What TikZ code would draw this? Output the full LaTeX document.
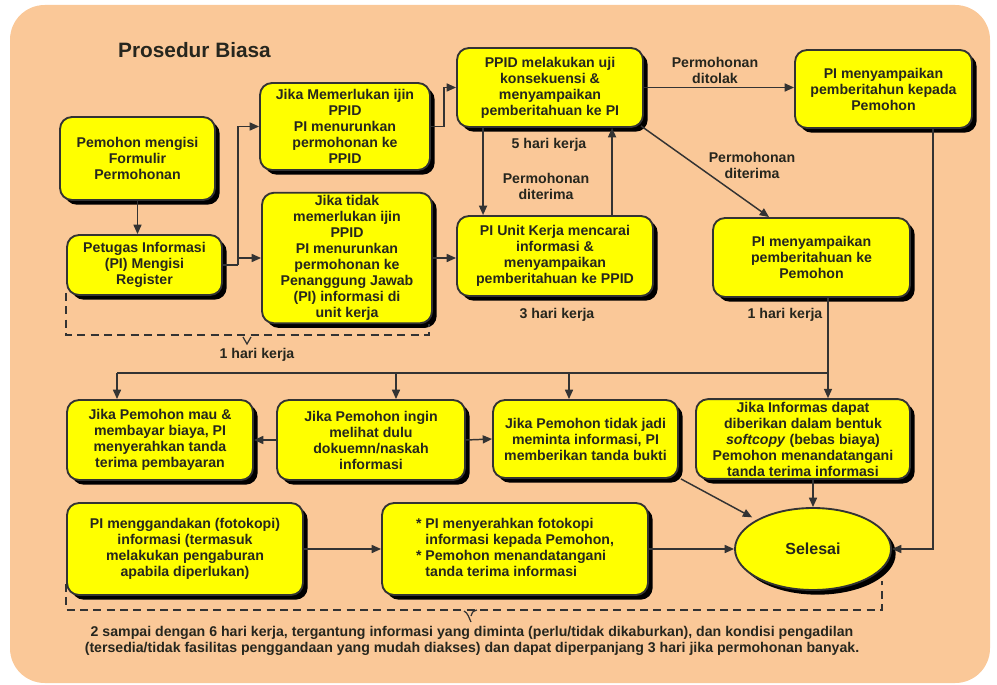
\documentclass[tikz,border=0pt]{standalone}
\usepackage{fontspec}
\setmainfont{Liberation Sans}
\usetikzlibrary{arrows.meta,shapes.geometric,shadows,calc}

\definecolor{latar}{RGB}{250,200,152}
\definecolor{kuning}{RGB}{255,255,0}
\definecolor{garis}{RGB}{51,51,51}
\definecolor{tulisan}{RGB}{38,38,30}

\tikzset{every picture/.style={line width=0.75pt}}
\tikzset{
  kotak/.style={draw=garis, line width=1.4pt, fill=kuning, rounded corners=9pt, align=center, inner sep=2pt, text=tulisan, font=\fontsize{10.6}{12}\selectfont\bfseries, drop shadow={shadow xshift=3.5pt, shadow yshift=-3.5pt, opacity=1, fill=black}},
  ukuran/.style 2 args={minimum width=#1*0.75pt, minimum height=#2*0.75pt},
  panah/.style={draw=garis, line width=1.1pt, -{Triangle[length=7pt,width=6pt]}},
  garisbiasa/.style={draw=garis, line width=1.1pt},
  putus/.style={draw=garis, line width=1.1pt, dash pattern={on 6pt off 4pt}},
  keterangan/.style={font=\fontsize{10.6}{12}\selectfont\bfseries, text=tulisan, align=center, inner sep=0.75pt},
}

\begin{document}
\begin{tikzpicture}[x=0.75pt,y=0.75pt,yscale=-1,xscale=1]
\useasboundingbox (0,0) rectangle (997,685);

%Rounded Rect latar
\fill[latar, rounded corners=26pt] (10,5) rectangle (990,683);

% Text Node judul
\node[keterangan, font=\fontsize{15.6}{18}\selectfont\bfseries] (judul) at (194.5,50) {Prosedur Biasa};

%Rounded Rect baris atas
\node[kotak, ukuran={155}{83}] (pemohon) at (137.5,158.5) {Pemohon mengisi\\Formulir\\Permohonan};
\node[kotak, ukuran={155}{60}] (register) at (144.5,265) {Petugas Informasi\\(PI) Mengisi\\Register};
\node[kotak, ukuran={170}{87}] (ijin) at (345,126.5) {Jika Memerlukan ijin\\PPID\\PI menurunkan\\permohonan ke\\PPID};
\node[kotak, ukuran={170}{130}] (tanpaijin) at (347,258) {Jika tidak\\memerlukan ijin\\PPID\\PI menurunkan\\permohonan ke\\Penanggung Jawab\\(PI) informasi di\\unit kerja};
\node[kotak, ukuran={186}{79}] (uji) at (550,87.5) {PPID melakukan uji\\konsekuensi \&\\menyampaikan\\pemberitahuan ke PI};
\node[kotak, ukuran={177}{78}] (ditolak) at (883.5,89) {PI menyampaikan\\pemberitahun kepada\\Pemohon};
\node[kotak, ukuran={196}{80}] (unitkerja) at (555,256) {PI Unit Kerja mencarai\\informasi \&\\menyampaikan\\pemberitahuan ke PPID};
\node[kotak, ukuran={197}{79}] (diterima) at (811.5,257.5) {PI menyampaikan\\pemberitahuan ke\\Pemohon};

%Rounded Rect baris tengah
\node[kotak, ukuran={186}{80}] (bayar) at (160,440) {Jika Pemohon mau \&\\membayar biaya, PI\\menyerahkan tanda\\terima pembayaran};
\node[kotak, ukuran={188}{80}] (lihat) at (371,440) {Jika Pemohon ingin\\melihat dulu\\dokuemn/naskah\\informasi};
\node[kotak, ukuran={185}{78}] (batal) at (585.5,439) {Jika Pemohon tidak jadi\\meminta informasi, PI\\memberikan tanda bukti};
\node[kotak, ukuran={214}{78}] (softcopy) at (803,439) {Jika Informas dapat\\diberikan dalam bentuk\\\textit{softcopy} (bebas biaya)\\Pemohon menandatangani\\tanda terima informasi};

%Rounded Rect baris bawah
\node[kotak, ukuran={236}{92}] (gandakan) at (185,549) {PI menggandakan (fotokopi)\\informasi (termasuk\\melakukan pengaburan\\apabila diperlukan)};
\node[kotak, ukuran={266}{92}] (serahkan) at (515,549) {\begin{tabular}{@{}l@{\ }l@{}}
{*} & PI menyerahkan fotokopi\\
    & informasi kepada Pemohon,\\
{*} & Pemohon menandatangani\\
    & tanda terima informasi
\end{tabular}};
%Ellipse selesai
\node[kotak, ellipse, ukuran={156}{82}, font=\fontsize{12}{14}\selectfont\bfseries] (selesai) at (813,549) {Selesai};

% Text Node keterangan
\node[keterangan] (lbltolak) at (715,70) {Permohonan\\ditolak};
\node[keterangan] (lbl5hari) at (549,145) {5 hari kerja};
\node[keterangan] (lblterima1) at (546,186) {Permohonan\\diterima};
\node[keterangan] (lblterima2) at (752,165) {Permohonan\\diterima};
\node[keterangan] (lbl3hari) at (557,315) {3 hari kerja};
\node[keterangan] (lbl1hari) at (785,315) {1 hari kerja};
\node[keterangan] (lbl1harib) at (257,355) {1 hari kerja};
\node[keterangan] (catatan) at (472,641) {2 sampai dengan 6 hari kerja, tergantung informasi yang diminta (perlu/tidak dikaburkan), dan kondisi pengadilan\\(tersedia/tidak fasilitas penggandaan yang mudah diakses) dan dapat diperpanjang 3 hari jika permohonan banyak.};

% Connector atas
\coordinate (cabang) at (238,265);
\draw[panah] (pemohon.south) -- (pemohon.south |- register.north);
\draw[garisbiasa] (register.east) -- (cabang);
\draw[panah] (cabang) |- (ijin.west);
\draw[panah] (cabang) |- (tanpaijin.west);
\draw[panah] (ijin.east) -- ++(13,0) |- (uji.west);
\draw[panah] (tanpaijin.east) -- (tanpaijin.east -| unitkerja.west);
\draw[panah] (uji.east) -- (uji.east -| ditolak.west);
\draw[panah] ($(uji.south west)+(27,0)$) -- ($(unitkerja.north west)+(27,0)$);
\draw[panah] ($(unitkerja.north west)+(156,0)$) -- ($(uji.south west)+(156,0)$);
\draw[panah] ($(uji.south east)+(-3,-2)$) -- ($(diterima.north west)+(57,0)$);

% Connector pembagi
\coordinate (bagi) at (828,373);
\coordinate (c1) at (117,373);
\coordinate (c2) at (396,373);
\coordinate (c3) at (569,373);
\draw[garisbiasa] (diterima.south -| bagi) -- (bagi) -- (c1);
\draw[panah] (c1) -- (c1 |- bayar.north);
\draw[panah] (c2) -- (c2 |- lihat.north);
\draw[panah] (c3) -- (c3 |- batal.north);
\draw[panah] (bagi) -- (bagi |- softcopy.north);
\draw[panah] (lihat.west) -- (bayar.east);
\draw[panah] (lihat.east) -- (batal.west);

% Connector bawah
\draw[panah] (gandakan.east) -- (serahkan.west);
\draw[panah] (serahkan.east) -- (selesai.west);
\draw[panah] ($(batal.south east)+(2,0)$) -- ($(selesai.north west)+(-5,-2)$);
\draw[panah] (selesai.north |- softcopy.south) -- (selesai.north);
\draw[panah] ($(ditolak.south east)+(-40,0)$) |- (selesai.east);

% Dashed bracket
\coordinate (kurung1) at (247,335);
\draw[putus] ($(register.south west)+(0,-3)$) |- (kurung1) -| ($(tanpaijin.south east)+(-4,0)$);
\draw[garisbiasa, line width=0.9pt] ($(kurung1)+(-4,2)$) -- ($(kurung1)+(0,9)$) -- ($(kurung1)+(4,2)$);
\coordinate (kurung2) at (470,610);
\draw[putus] ($(gandakan.south west)+(0,-12)$) |- (kurung2) -| ($(selesai.east)+(-10,32)$);
\draw[garisbiasa, line width=0.9pt] ($(kurung2)+(-6,1)$) .. controls ($(kurung2)+(-2,3)$) and ($(kurung2)+(-1,8)$) .. ($(kurung2)+(1,12)$);
\draw[garisbiasa, line width=0.9pt] ($(kurung2)+(7,0)$) .. controls ($(kurung2)+(3,1)$) and ($(kurung2)+(1,3)$) .. ($(kurung2)+(1,6)$);

\end{tikzpicture}
\end{document}
